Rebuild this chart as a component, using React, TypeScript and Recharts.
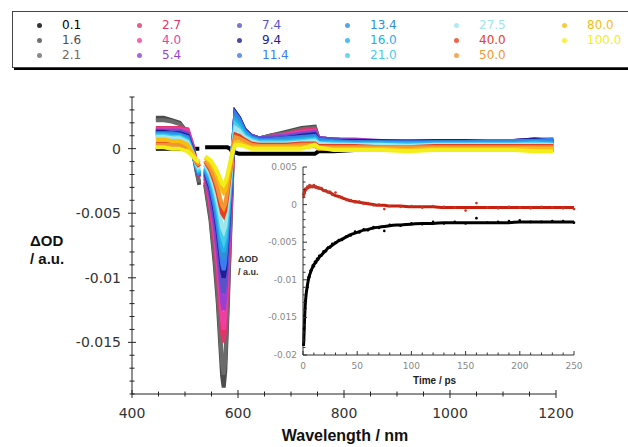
import React from "react"
import { Line, LineChart, XAxis, YAxis } from "recharts"

// wavelength grid (nm); 532 is the pump-scatter gap
const wavelengths = [
  445, 460, 475, 490, 505, 515, 522, 527, 532, 538, 548, 556, 562, 566, 570, 573, 576, 580, 585, 590,
  595, 602, 612, 625, 640, 660, 690, 720, 745, 752, 780, 820, 870, 920, 970, 1020, 1070, 1120, 1160, 1195,
]

// delay labels (ps)
const delays = ["0.1", "1.6", "2.1", "2.7", "4.0", "5.4", "7.4", "9.4", "11.4", "13.4", "16.0", "21.0", "27.5", "40.0", "50.0", "80.0", "100.0"]

const s01 = [
  0, 0, 0, 0, 0, 0, 0, 0, null,
  0.0001, 0.0001, 0.0001, 0.0001, 0.0001, 0.0001, 0.0001, 0.0001, 0.0001, 0, -0.0003,
  -0.0003, -0.0004, -0.0004, -0.0004,
  -0.0004, -0.0004, -0.0004, -0.0004, -0.0004,
  -0.0002, -0.0002, -0.0001, -0.0001, -0.0001, -0.0001, -0.0001, -0.0001, -0.0001, -0.0001, -0.0001,
]
const s16 = [
  0.0024, 0.0024, 0.0022, 0.002, 0.0012, -0.0002, -0.0018, -0.0028, null,
  -0.0028, -0.0055, -0.0089, -0.012, -0.0148, -0.0176, -0.0185, -0.0172, -0.013, -0.007, -0.0009,
  0.0022, 0.0019, 0.0014, 0.001,
  0.0008, 0.001, 0.0013, 0.0016, 0.0017,
  0.0008, 0.0007, 0.0006, 0.0006, 0.0006, 0.0006, 0.0006, 0.0005, 0.0005, 0.0006, 0.0005,
]
const s21 = [
  0.0022, 0.0022, 0.0021, 0.0019, 0.0012, -0.0002, -0.0017, -0.0026, null,
  -0.0026, -0.0052, -0.0084, -0.0114, -0.014, -0.0166, -0.0175, -0.0163, -0.0123, -0.0066, -0.0008,
  0.0023, 0.002, 0.0014, 0.001,
  0.0008, 0.001, 0.0012, 0.0015, 0.0016,
  0.0008, 0.0007, 0.0006, 0.0006, 0.0005, 0.0006, 0.0005, 0.0005, 0.0005, 0.0005, 0.0005,
]
const s27 = [
  0.0016, 0.0016, 0.0016, 0.0016, 0.0015, 0.0002, -0.0014, -0.0022, null,
  -0.0023, -0.0045, -0.0072, -0.0098, -0.012, -0.0143, -0.015, -0.014, -0.0105, -0.0057, -0.0006,
  0.0025, 0.0021, 0.0014, 0.001,
  0.0008, 0.0009, 0.0011, 0.0014, 0.0015,
  0.0008, 0.0007, 0.0006, 0.0006, 0.0006, 0.0005, 0.0005, 0.0005, 0.0005, 0.0005, 0.0005,
]
const s40 = [
  0.0015, 0.0015, 0.0015, 0.0015, 0.0014, 0.0001, -0.0014, -0.0021, null,
  -0.0021, -0.0042, -0.0067, -0.0091, -0.0112, -0.0133, -0.014, -0.013, -0.0098, -0.0053, -0.0005,
  0.0026, 0.0022, 0.0014, 0.001,
  0.0008, 0.0009, 0.0011, 0.0013, 0.0014,
  0.0008, 0.0007, 0.0006, 0.0006, 0.0005, 0.0005, 0.0005, 0.0005, 0.0005, 0.0005, 0.0004,
]
const s54 = [
  0.0014, 0.0014, 0.0014, 0.0014, 0.0012, 0, -0.0014, -0.0021, null,
  -0.002, -0.0038, -0.006, -0.0081, -0.01, -0.0119, -0.0125, -0.0116, -0.0088, -0.0047, -0.0003,
  0.0028, 0.0024, 0.0015, 0.001,
  0.0008, 0.0009, 0.001, 0.0012, 0.0013,
  0.0008, 0.0007, 0.0007, 0.0006, 0.0006, 0.0006, 0.0006, 0.0006, 0.0006, 0.0007, 0.0006,
]
const s74 = [
  0.0013, 0.0013, 0.0013, 0.0013, 0.0011, -0.0001, -0.0014, -0.0021, null,
  -0.0019, -0.0034, -0.0054, -0.0073, -0.009, -0.0106, -0.0112, -0.0104, -0.0078, -0.0042, -0.0002,
  0.0028, 0.0024, 0.0015, 0.001,
  0.0008, 0.0008, 0.0009, 0.0011, 0.0012,
  0.0008, 0.0007, 0.0006, 0.0006, 0.0006, 0.0006, 0.0006, 0.0006, 0.0006, 0.0007, 0.0007,
]
const s94 = [
  0.0013, 0.0013, 0.0012, 0.0012, 0.001, -0.0002, -0.0015, -0.0021, null,
  -0.0018, -0.0031, -0.0048, -0.0065, -0.008, -0.0095, -0.01, -0.0093, -0.007, -0.0038, -0.0001,
  0.0028, 0.0024, 0.0015, 0.0009,
  0.0007, 0.0007, 0.0008, 0.001, 0.0011,
  0.0007, 0.0006, 0.0006, 0.0006, 0.0005, 0.0006, 0.0006, 0.0006, 0.0006, 0.0007, 0.0006,
]
const s114 = [
  0.0012, 0.0012, 0.0012, 0.0011, 0.0009, -0.0003, -0.0015, -0.0021, null,
  -0.0017, -0.0029, -0.0045, -0.0061, -0.0075, -0.0089, -0.0094, -0.0087, -0.0066, -0.0036, 0,
  0.0027, 0.0023, 0.0014, 0.0009,
  0.0007, 0.0007, 0.0008, 0.0009, 0.001,
  0.0007, 0.0006, 0.0005, 0.0005, 0.0005, 0.0005, 0.0005, 0.0006, 0.0006, 0.0006, 0.0007,
]
const s134 = [
  0.0011, 0.0011, 0.0011, 0.001, 0.0008, -0.0003, -0.0014, -0.002, null,
  -0.0016, -0.0027, -0.0041, -0.0056, -0.0069, -0.0082, -0.0086, -0.008, -0.006, -0.0033, 0,
  0.0024, 0.0021, 0.0013, 0.0008,
  0.0006, 0.0006, 0.0007, 0.0008, 0.0009,
  0.0006, 0.0005, 0.0005, 0.0005, 0.0004, 0.0005, 0.0005, 0.0005, 0.0005, 0.0005, 0.0005,
]
const s160 = [
  0.0011, 0.0011, 0.001, 0.001, 0.0007, -0.0004, -0.0014, -0.0019, null,
  -0.0015, -0.0025, -0.0038, -0.0052, -0.0064, -0.0076, -0.008, -0.0074, -0.0056, -0.003, 0,
  0.0022, 0.0019, 0.0012, 0.0008,
  0.0006, 0.0006, 0.0006, 0.0007, 0.0008,
  0.0005, 0.0005, 0.0004, 0.0004, 0.0004, 0.0004, 0.0004, 0.0004, 0.0004, 0.0005, 0.0004,
]
const s210 = [
  0.001, 0.001, 0.0009, 0.0009, 0.0006, -0.0004, -0.0013, -0.0018, null,
  -0.0013, -0.0022, -0.0035, -0.0047, -0.0058, -0.0068, -0.0072, -0.0067, -0.005, -0.0027, 0,
  0.0019, 0.0016, 0.001, 0.0007,
  0.0005, 0.0005, 0.0005, 0.0006, 0.0007,
  0.0004, 0.0004, 0.0003, 0.0003, 0.0003, 0.0003, 0.0003, 0.0003, 0.0003, 0.0004, 0.0003,
]
const s275 = [
  0.0009, 0.0009, 0.0008, 0.0008, 0.0005, -0.0004, -0.0012, -0.0016, null,
  -0.0012, -0.002, -0.0031, -0.0042, -0.0051, -0.0061, -0.0064, -0.006, -0.0045, -0.0024, 0,
  0.0016, 0.0014, 0.0009, 0.0006,
  0.0004, 0.0004, 0.0004, 0.0005, 0.0006,
  0.0004, 0.0003, 0.0003, 0.0003, 0.0002, 0.0003, 0.0003, 0.0003, 0.0003, 0.0003, 0.0003,
]
const s400 = [
  0.0004, 0.0004, 0.0004, 0.0004, 0.0002, -0.0005, -0.0011, -0.0014, null,
  -0.001, -0.0017, -0.0026, -0.0035, -0.0043, -0.005, -0.0052, -0.0048, -0.0036, -0.0019, -0.0001,
  0.0011, 0.001, 0.0007, 0.0004,
  0.0003, 0.0003, 0.0003, 0.0004, 0.0004,
  0.0002, 0.0002, 0.0002, 0.0001, 0.0001, 0.0002, 0.0002, 0.0002, 0.0002, 0.0002, 0.0002,
]
const s500 = [
  0.0003, 0.0003, 0.0003, 0.0003, 0.0001, -0.0005, -0.001, -0.0013, null,
  -0.0009, -0.0015, -0.0023, -0.0031, -0.0038, -0.0044, -0.0046, -0.0043, -0.0032, -0.0017, -0.0001,
  0.0009, 0.0008, 0.0006, 0.0003,
  0.0002, 0.0002, 0.0002, 0.0003, 0.0003,
  0.0001, 0.0001, 0.0001, 0.0001, 0.0001, 0.0001, 0.0001, 0.0001, 0.0001, 0.0001, 0.0001,
]
const s800 = [
  0.0007, 0.0007, 0.0006, 0.0006, 0.0003, -0.0004, -0.0009, -0.0011, null,
  -0.0007, -0.0011, -0.0017, -0.0023, -0.0028, -0.0032, -0.0034, -0.0032, -0.0024, -0.0013, -0.0002,
  0.0005, 0.0005, 0.0003, 0.0001,
  0.0001, 0.0001, 0.0001, 0.0001, 0.0002,
  0, 0, 0, 0, -0.0001, 0, 0, 0, 0, 0, 0,
]
const s1000 = [
  0.0001, 0.0001, 0, 0, -0.0002, -0.0006, -0.0009, -0.001, null,
  -0.0006, -0.0009, -0.0014, -0.0019, -0.0023, -0.0027, -0.0028, -0.0026, -0.002, -0.0011, -0.0002,
  0.0003, 0.0003, 0.0002, 0,
  0, 0, 0, 0, 0.0003,
  0.0001, -0.0001, -0.0001, -0.0001, -0.0002, -0.0001, -0.0001, -0.0001, -0.0001, -0.0002, -0.0002,
]

const spectra = [s01, s16, s21, s27, s40, s54, s74, s94, s114, s134, s160, s210, s275, s400, s500, s800, s1000]
const colors = [
  "#000000", "#4d4d4d", "#6b6b6b", "#e0356a", "#ee3fa0", "#9a3fd0", "#5a52c8", "#1e1e90", "#3a7cf2",
  "#2e90d8", "#1fb0ec", "#45cdea", "#9ee6ec", "#e8401f", "#f39530", "#f7bd10", "#f2ee1a",
]

const xTicks = [400, 450, 500, 550, 600, 650, 700, 750, 800, 850, 900, 950, 1000, 1050, 1100, 1150, 1200]
const yTicks = [
  -0.019, -0.018, -0.017, -0.016, -0.015, -0.014, -0.013, -0.012, -0.011, -0.01, -0.009, -0.008,
  -0.007, -0.006, -0.005, -0.004, -0.003, -0.002, -0.001, 0, 0.001, 0.002, 0.003, 0.004,
]

// inset kinetics
const times = [
  0.5, 1, 1.5, 2, 3, 4, 5, 6, 7, 8, 9, 10, 11, 12, 13, 14, 15, 17, 19, 21, 23, 25, 27, 30, 33, 36,
  40, 44, 48, 52, 56, 60, 65, 70, 75, 80, 90, 100, 110, 120, 130, 140, 150, 160, 170, 180, 190, 200,
  210, 220, 230, 240, 250,
]
const redData = [
  0.001, 0.0016, 0.0015, 0.0021, 0.002, 0.0024, 0.0022, 0.0026, 0.0023, 0.0025, 0.0023, 0.0026, 0.0023,
  0.0024, 0.0022, 0.0023, 0.0021, 0.0022, 0.0018, 0.0019, 0.0016, 0.0017, 0.0013, 0.0016, 0.001, 0.001,
  0.0006, 0.0006, 0.0003, 0.0004, 0.0001, 0.0002, -0.0001, 0, -0.0006, -0.0002, -0.0003, -0.0002,
  -0.0004, -0.0002, -0.0003, -0.0004, -0.0008, 0.0002, -0.0004, -0.0005, -0.0003, -0.0004, -0.0005,
  -0.0003, -0.0004, -0.0005, -0.0006,
]
const redFit = [
  0.0012, 0.0015, 0.0017, 0.0019, 0.0021, 0.0022, 0.0023, 0.0024, 0.0024, 0.0024, 0.0024, 0.0024, 0.0024,
  0.0023, 0.0023, 0.0022, 0.0022, 0.0021, 0.0019, 0.0018, 0.0017, 0.0016, 0.0014, 0.0012, 0.0011, 0.0009,
  0.0007, 0.0005, 0.0004, 0.0003, 0.0002, 0.0001, 0, -0.0001, -0.0001, -0.0002, -0.0002, -0.0003,
  -0.0003, -0.0003, -0.0004, -0.0004, -0.0004, -0.0004, -0.0004, -0.0004, -0.0004, -0.0004, -0.0004,
  -0.0004, -0.0004, -0.0004, -0.0004,
]
const blackData = [
  -0.0186, -0.0165, -0.0148, -0.0138, -0.0115, -0.011, -0.0097, -0.0096, -0.0088, -0.0087, -0.0081,
  -0.0082, -0.0076, -0.0077, -0.0072, -0.0073, -0.0068, -0.0068, -0.0062, -0.0062, -0.0057, -0.0057,
  -0.0052, -0.005, -0.0047, -0.0047, -0.0042, -0.0041, -0.0036, -0.0037, -0.0033, -0.0034, -0.003,
  -0.0031, -0.0035, -0.0027, -0.0028, -0.0025, -0.0026, -0.0023, -0.0025, -0.0023, -0.0025, -0.0018,
  -0.0024, -0.0023, -0.0022, -0.0021, -0.0023, -0.0023, -0.0022, -0.0022, -0.0024,
]
const blackFit = [
  -0.0188, -0.017, -0.015, -0.0135, -0.0118, -0.0108, -0.01, -0.0094, -0.009, -0.0086, -0.0083, -0.008,
  -0.0078, -0.0076, -0.0074, -0.0072, -0.007, -0.0067, -0.0064, -0.0061, -0.0058, -0.0056, -0.0054,
  -0.0051, -0.0048, -0.0046, -0.0043, -0.004, -0.0038, -0.0036, -0.0034, -0.0033, -0.0031, -0.003,
  -0.0029, -0.0028, -0.0027, -0.0026, -0.0025, -0.0025, -0.0024, -0.0024, -0.0024, -0.0024, -0.0024,
  -0.0024, -0.0024, -0.0023, -0.0023, -0.0023, -0.0023, -0.0023, -0.0023,
]
const tTicks = [0, 10, 20, 30, 40, 50, 60, 70, 80, 90, 100, 110, 120, 130, 140, 150, 160, 170, 180, 190, 200, 210, 220, 230, 240, 250]
const insetYTicks = [
  -0.02, -0.019, -0.018, -0.017, -0.016, -0.015, -0.014, -0.013, -0.012, -0.011, -0.01, -0.009, -0.008,
  -0.007, -0.006, -0.005, -0.004, -0.003, -0.002, -0.001, 0, 0.001, 0.002, 0.003, 0.004, 0.005,
]

const spectraRows = wavelengths.map((w, i) => {
  const row: Record<string, number | null> = { w }
  spectra.forEach((s, k) => (row["s" + k] = s[i]))
  return row
})
const kineticRows = times.map((t, i) => ({
  t,
  redData: redData[i],
  redFit: redFit[i],
  blackData: blackData[i],
  blackFit: blackFit[i],
}))

const isMultiple = (v: number, step: number) => Math.abs(Math.round(v / step) * step - v) < 1e-9
const fmt = (v: number) => String(Number(v.toFixed(3)))

const tickFont = "'DejaVu Sans', sans-serif"
const titleFont = "'Liberation Sans', Arial, sans-serif"

function MainYTick({ x, y, payload }: any) {
  const major = isMultiple(payload.value, 0.005)
  const len = major ? 4 : 2.5
  return (
    <g>
      <line x1={x - len} x2={x + len} y1={y} y2={y} stroke="#222" />
      {major && (
        <text x={x - 11} y={y + 5} textAnchor="end" fontSize={14} fontFamily={tickFont} fill="#333">
          {fmt(payload.value)}
        </text>
      )}
    </g>
  )
}

function MainXTick({ x, y, payload }: any) {
  const major = payload.value % 200 === 0
  const len = major ? 4 : 2.5
  return (
    <g>
      <line x1={x} x2={x} y1={y - len} y2={y + len} stroke="#222" />
      {major && (
        <text x={x} y={y + 24} textAnchor="middle" fontSize={14} fontFamily={tickFont} fill="#333">
          {payload.value}
        </text>
      )}
    </g>
  )
}

function InsetYTick({ x, y, payload }: any) {
  const major = isMultiple(payload.value, 0.005)
  return (
    <g>
      <line x1={x} x2={x + (major ? 4 : 2.5)} y1={y} y2={y} stroke="#333" />
      {major && (
        <text x={x - 6} y={y + 3} textAnchor="end" fontSize={9} fontFamily={tickFont} fill="#888">
          {fmt(payload.value)}
        </text>
      )}
    </g>
  )
}

function InsetXTick({ x, y, payload }: any) {
  const major = payload.value % 50 === 0
  return (
    <g>
      <line x1={x} x2={x} y1={y} y2={y - (major ? 4 : 2.5)} stroke="#333" />
      {major && (
        <text x={x} y={y + 14} textAnchor="middle" fontSize={9} fontFamily={tickFont} fill="#888">
          {payload.value}
        </text>
      )}
    </g>
  )
}

const legendX = [40, 140, 240, 348, 457, 565]
const legendY = [25, 40, 55]

function DelayLegend() {
  return (
    <>
      <div
        style={{
          position: "absolute",
          left: 12,
          top: 11,
          width: 640,
          height: 55,
          border: "1px solid #444",
          boxShadow: "2px 2px 0 #000",
        }}
      />
      {delays.map((d, i) => {
        const col = Math.floor(i / 3)
        const row = i % 3
        return (
          <div
            key={d}
            style={{
              position: "absolute",
              left: legendX[col] - 3,
              top: legendY[row] - 8,
              height: 16,
              display: "flex",
              alignItems: "center",
              fontFamily: tickFont,
              fontSize: 12,
              color: colors[i],
            }}
          >
            <span
              style={{
                width: 5,
                height: 5,
                borderRadius: 3,
                background: colors[i],
                opacity: 0.8,
                marginRight: 20,
              }}
            />
            {d}
          </div>
        )
      })}
    </>
  )
}

export default function App() {
  return (
    <div
      style={{
        position: "absolute",
        left: 0,
        top: 0,
        width: 628,
        height: 447,
        overflow: "hidden",
        background: "#fff",
      }}
    >
      <DelayLegend />
      <div style={{ position: "absolute", left: 0, top: 0 }}>
        <LineChart width={628} height={447} data={spectraRows} margin={{ top: 97, right: 72, bottom: 23, left: 72 }}>
          <XAxis
            dataKey="w"
            type="number"
            domain={[400, 1200]}
            ticks={xTicks}
            interval={0}
            height={30}
            tickSize={0}
            tickMargin={0}
            tickLine={false}
            axisLine={{ stroke: "#222" }}
            tick={<MainXTick />}
          />
          <YAxis
            type="number"
            domain={[-0.019, 0.004]}
            ticks={yTicks}
            interval={0}
            width={60}
            tickSize={0}
            tickMargin={0}
            tickLine={false}
            axisLine={{ stroke: "#222" }}
            tick={<MainYTick />}
          />
          {spectra.map((_, k) => (
            <Line
              key={k}
              dataKey={"s" + k}
              type="linear"
              stroke={colors[k]}
              strokeWidth={4}
              dot={false}
              isAnimationActive={false}
            />
          ))}
        </LineChart>
      </div>
      <div style={{ position: "absolute", left: 0, top: 0 }}>
        <LineChart width={628} height={447} data={kineticRows} margin={{ top: 167, right: 54, bottom: 72, left: 263 }}>
          <XAxis
            dataKey="t"
            type="number"
            domain={[0, 250]}
            ticks={tTicks}
            interval={0}
            height={20}
            tickSize={0}
            tickMargin={0}
            tickLine={false}
            axisLine={{ stroke: "#333" }}
            tick={<InsetXTick />}
          />
          <YAxis
            type="number"
            domain={[-0.02, 0.005]}
            ticks={insetYTicks}
            interval={0}
            width={40}
            tickSize={0}
            tickMargin={0}
            tickLine={false}
            axisLine={{ stroke: "#333" }}
            tick={<InsetYTick />}
          />
          <Line dataKey="redData" stroke="none" dot={{ r: 1.3, fill: "#c0392b", stroke: "none" }} isAnimationActive={false} />
          <Line dataKey="blackData" stroke="none" dot={{ r: 1.3, fill: "#000", stroke: "none" }} isAnimationActive={false} />
          <Line dataKey="redFit" type="monotone" stroke="#c8200e" strokeWidth={3} dot={false} isAnimationActive={false} />
          <Line dataKey="blackFit" type="monotone" stroke="#000" strokeWidth={3} dot={false} isAnimationActive={false} />
        </LineChart>
      </div>
      <div style={{ position: "absolute", left: 30, top: 232, fontFamily: titleFont, fontWeight: "bold", fontSize: 15, lineHeight: "18px", color: "#111" }}>
        ΔOD
        <br />/ a.u.
      </div>
      <div style={{ position: "absolute", left: 238, top: 253, fontFamily: titleFont, fontWeight: "bold", fontSize: 9, lineHeight: "13px", color: "#333" }}>
        ΔOD
        <br />/ a.u.
      </div>
      <div style={{ position: "absolute", left: 413, top: 375, fontFamily: titleFont, fontWeight: "bold", fontSize: 10, color: "#222" }}>
        Time / ps
      </div>
      <div style={{ position: "absolute", left: 0, width: 690, top: 427, textAlign: "center", fontFamily: titleFont, fontWeight: "bold", fontSize: 16, color: "#111" }}>
        Wavelength / nm
      </div>
    </div>
  )
}
